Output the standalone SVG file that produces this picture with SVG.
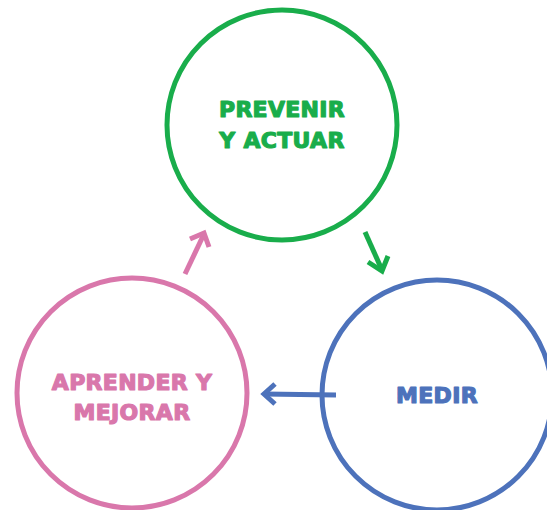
<svg xmlns="http://www.w3.org/2000/svg" width="547" height="510" viewBox="0 0 547 510">
<style>
.c{fill:none;stroke-width:5}
.t{font-family:"DejaVu Sans",sans-serif;font-weight:bold;font-size:22px;letter-spacing:0.3px;text-anchor:middle;stroke-width:1.2;stroke-linejoin:round}
.a{fill:none;stroke-width:5;stroke-linecap:butt;stroke-linejoin:miter}
</style>
<rect width="547" height="510" fill="#fff"/>
<g id="prevenir">
<circle class="c" cx="282" cy="125" r="115" stroke="#19ad4b"/>
<text class="t" x="282" y="117" fill="#19ad4b" stroke="#19ad4b">PREVENIR</text>
<text class="t" x="282" y="148" fill="#19ad4b" stroke="#19ad4b">Y ACTUAR</text>
</g>
<g id="medir">
<circle class="c" cx="437" cy="395" r="115" stroke="#4d72bb"/>
<text class="t" x="437" y="403" fill="#4d72bb" stroke="#4d72bb">MEDIR</text>
</g>
<g id="aprender">
<circle class="c" cx="132" cy="393" r="115" stroke="#d977ab"/>
<text class="t" x="132" y="390" fill="#d977ab" stroke="#d977ab">APRENDER Y</text>
<text class="t" x="132" y="420" fill="#d977ab" stroke="#d977ab">MEJORAR</text>
</g>
<g id="connectors">
<g stroke="#19ad4b" class="a"><path d="M365 232L382 270"/><path d="M368 262L382 271L388 256"/></g>
<g stroke="#4d72bb" class="a"><path d="M336 395L264 394"/><path d="M275 384L264 394L275 404"/></g>
<g stroke="#d977ab" class="a"><path d="M185 274L204 234"/><path d="M190 239L204 233L209 247"/></g>
</g>
</svg>
